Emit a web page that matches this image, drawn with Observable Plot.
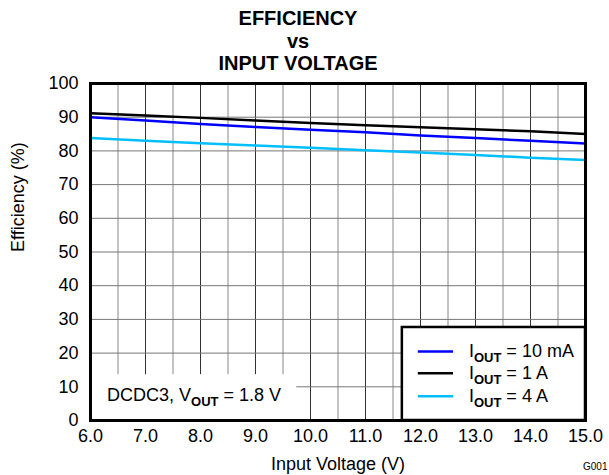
<!DOCTYPE html>
<html><head><meta charset="utf-8">
<script src="https://cdn.jsdelivr.net/npm/d3@7"></script>
<script src="https://cdn.jsdelivr.net/npm/@observablehq/plot@0.6"></script>
<style>body{margin:0;background:#fff}</style>
</head><body><div id="chart"></div>
<script>
const voltages = [6, 7, 8, 9, 10, 11, 12, 13, 14, 15];
const eff10mA = [90.0, 89.0, 88.0, 87.1, 86.3, 85.5, 84.6, 83.8, 83.0, 82.2];
const eff1A   = [91.2, 90.5, 89.8, 89.0, 88.3, 87.6, 87.0, 86.4, 85.8, 85.0];
const eff4A   = [83.8, 83.0, 82.3, 81.6, 80.9, 80.2, 79.5, 78.8, 78.0, 77.3];
const seriesNames = ["I_OUT = 10 mA", "I_OUT = 1 A", "I_OUT = 4 A"];
const seriesColors = ["#0000ff", "#000000", "#00bfff"];
const xTicks = [6, 7, 8, 9, 10, 11, 12, 13, 14, 15];
const yTicks = [0, 10, 20, 30, 40, 50, 60, 70, 80, 90, 100];
const xGrid = d3.range(6, 15.001, 0.5);
const titleText = "EFFICIENCY\nvs\nINPUT VOLTAGE";
const xLabel = "Input Voltage (V)";
const yLabel = "Efficiency (%)";
const noteText = "DCDC3, V_OUT = 1.8 V";

const allSeries = [eff10mA, eff1A, eff4A];
const rows = [];
allSeries.forEach((vals, s) => vals.forEach((v, i) => rows.push({x: voltages[i], y: v, s: seriesNames[s]})));
const legendRows = seriesNames.map((n, i) => ({n, c: seriesColors[i], y: [20.5, 14, 7.2][i]}));

const chart = Plot.plot({
  width: 609, height: 475,
  marginLeft: 90, marginRight: 24, marginTop: 83, marginBottom: 55,
  style: {fontFamily: "'Liberation Sans', Arial, sans-serif", fontSize: "18px", background: "#fff"},
  x: {domain: [6, 15]},
  y: {domain: [0, 100]},
  color: {domain: seriesNames, range: seriesColors},
  marks: [
    Plot.ruleX(xGrid, {stroke: (d) => Number.isInteger(d) ? "#333" : "#888", strokeWidth: 1, strokeOpacity: 1}),
    Plot.ruleY(yTicks, {stroke: "#777", strokeWidth: 1}),
    Plot.rect([{x1: 6, x2: 9.75, y1: 0, y2: 13.6}], {x1: "x1", x2: "x2", y1: "y1", y2: "y2", fill: "#fff"}),
    Plot.text([noteText], {x: 6.3, y: 7.4, text: (d) => d, textAnchor: "start", fontSize: 18, fill: "#000"}),
    Plot.line(rows, {x: "x", y: "y", z: "s", stroke: "s", strokeWidth: 2.5}),
    Plot.rect([{x1: 11.67, x2: 15, y1: 0, y2: 27.6}], {x1: "x1", x2: "x2", y1: "y1", y2: "y2", fill: "#fff", stroke: "#000", strokeWidth: 2.5}),
    Plot.ruleY(legendRows, {x1: 11.96, x2: 12.6, y: "y", stroke: "c", strokeWidth: 2.5}),
    Plot.text(legendRows, {x: 12.88, y: "y", text: "n", textAnchor: "start", fontSize: 18, fill: "#000"}),
    Plot.frame({stroke: "#000", strokeWidth: 3}),
    Plot.axisX(xTicks, {tickSize: 0, tickPadding: 9, tickFormat: (d) => d.toFixed(1), fontSize: 18, label: null}),
    Plot.axisY(yTicks, {tickSize: 0, tickPadding: 12, fontSize: 18, label: null}),
    Plot.text([titleText], {frameAnchor: "top", dy: -74.5, dx: -40, lineAnchor: "top", lineHeight: 1.13, fontWeight: "bold", fontSize: 20, text: (d) => d, fill: "#000"}),
    Plot.text([xLabel], {frameAnchor: "bottom", dy: 49, text: (d) => d, fontSize: 18, fill: "#000"}),
    Plot.text([yLabel], {frameAnchor: "left", dx: -72, rotate: -90, text: (d) => d, fontSize: 18, fill: "#000"}),
    Plot.text(["G001"], {frameAnchor: "bottom-right", dy: 49, dx: 22, text: (d) => d, fontSize: 10, fill: "#000", textAnchor: "end"})
  ]
});
document.getElementById("chart").appendChild(chart);

// Subscripts: turn "_OUT" into a real subscript tspan
d3.select(chart).selectAll("text").each(function() {
  const el = d3.select(this);
  if (el.selectAll("tspan").size() > 0) return;
  const t = el.text();
  const idx = t.indexOf("_OUT");
  if (idx < 0) return;
  const before = t.slice(0, idx), after = t.slice(idx + 4);
  el.text(null);
  el.append("tspan").text(before);
  el.append("tspan").attr("dy", 5).attr("font-size", 13).attr("font-weight", "bold").text("OUT");
  el.append("tspan").attr("dy", -5).text(after);
});
</script></body></html>
